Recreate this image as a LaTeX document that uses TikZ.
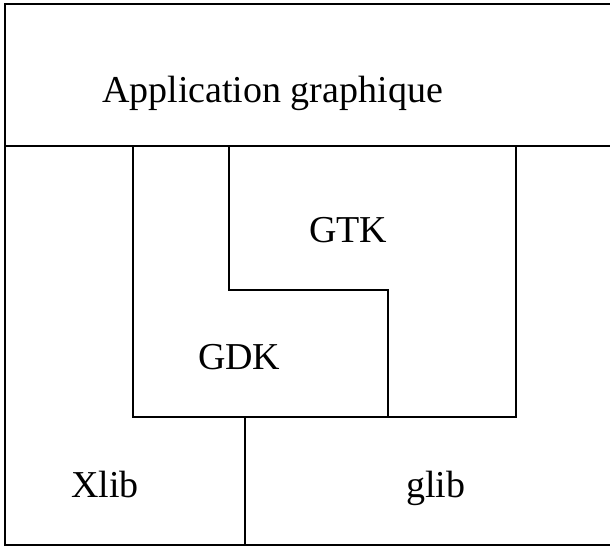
\documentclass[tikz,border=0pt]{standalone}
\usepackage{fontspec}
\setmainfont{Liberation Serif}
\usepackage{tikz}

\begin{document}
\begin{tikzpicture}[x=0.5pt, y=-0.5pt, line width=1pt,
    every node/.style={inner sep=0pt, anchor=base west, font=\fontsize{19}{23}\selectfont}]
            \useasboundingbox (0,0) rectangle (610,550);
            % Frame
            \draw (612,4) -- (5,4) -- (5,545) -- (612,545);
            \draw (5,146) -- (612,146);
            % Layers
            \draw (133,146) -- (133,417) -- (516,417) -- (516,146);
            \draw (229,146) -- (229,290) -- (388,290) -- (388,417);
            \draw (245,417) -- (245,545);
            % Labels
            \node (app) at (101,103) {Application graphique};
            \node (gtk) at (308,243) {GTK};
            \node (gdk) at (197,370) {GDK};
            \node (xlib) at (70,497) {Xlib};
            \node (glib) at (405,497) {glib};
        \end{tikzpicture}
\end{document}
